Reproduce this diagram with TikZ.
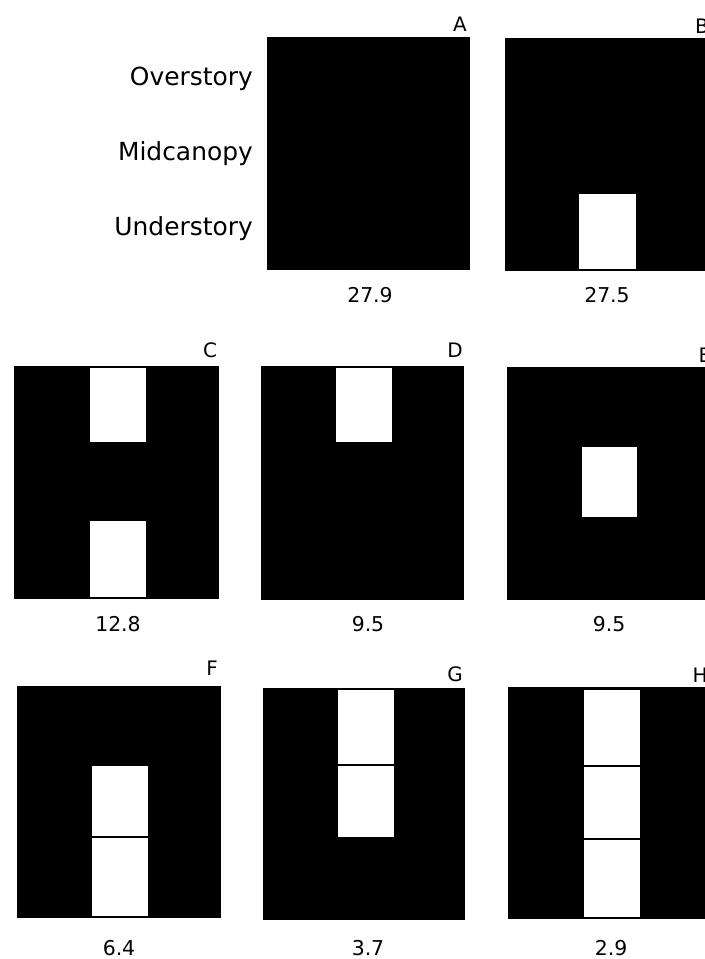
\documentclass[tikz,border=0pt]{standalone}
\usepackage{fontspec}
\setmainfont{DejaVu Sans}
\begin{document}
\begin{tikzpicture}[x=1bp,y=-1bp,
  canopy/.style={fill=black},
  gapcell/.style={fill=white,draw=black,line width=1.5bp},
  layername/.style={anchor=base east,font=\fontsize{25}{28}\selectfont,inner sep=0pt},
  panelname/.style={anchor=base,font=\fontsize{20}{24}\selectfont,inner sep=0pt},
  valuetext/.style={anchor=base,font=\fontsize{20.5}{24}\selectfont,inner sep=0pt}]
\useasboundingbox (0,0) rectangle (705,959);
\clip (0,0) rectangle (705,959);

% layer names
\node[layername] (over) at (253,85) {Overstory};
\node[layername] (mid) at (253,160) {Midcanopy};
\node[layername] (under) at (253,235) {Understory};

% Row 1
\fill[canopy] (267,37) rectangle (470,270);
\fill[canopy] (505,38) rectangle (730,271);
\draw[gapcell] (578,193) rectangle (637,270);
\node[panelname] (lA) at (460,31) {A};
\node[panelname] (lB) at (702,33) {B};
\node[valuetext] (vA) at (370,302) {27.9};
\node[valuetext] (vB) at (607,302) {27.5};

% Row 2
\fill[canopy] (14,366) rectangle (219,599);
\draw[gapcell] (89,367) rectangle (147,443);
\draw[gapcell] (89,520) rectangle (147,598);
\fill[canopy] (261,366) rectangle (464,600);
\draw[gapcell] (335,367) rectangle (393,443);
\fill[canopy] (507,367) rectangle (730,600);
\draw[gapcell] (581,446) rectangle (638,518);
\node[panelname] (lC) at (210,357) {C};
\node[panelname] (lD) at (455,357) {D};
\node[panelname] (lE) at (705,362) {E};
\node[valuetext] (vC) at (118,631) {12.8};
\node[valuetext] (vD) at (368,631) {9.5};
\node[valuetext] (vE) at (609,631) {9.5};

% Row 3
\fill[canopy] (17,686) rectangle (221,918);
\draw[gapcell] (91,765) rectangle (149,837);
\draw[gapcell] (91,837) rectangle (149,917);
\fill[canopy] (263,688) rectangle (465,920);
\draw[gapcell] (337,689) rectangle (395,765);
\draw[gapcell] (337,765) rectangle (395,838);
\fill[canopy] (508,687) rectangle (730,919);
\draw[gapcell] (583,689) rectangle (641,766);
\draw[gapcell] (583,766) rectangle (641,839);
\draw[gapcell] (583,839) rectangle (641,918);
\node[panelname] (lF) at (212,675) {F};
\node[panelname] (lG) at (455,681) {G};
\node[panelname] (lH) at (700,682) {H};
\node[valuetext] (vF) at (119,955) {6.4};
\node[valuetext] (vG) at (368,955) {3.7};
\node[valuetext] (vH) at (611,955) {2.9};
\end{tikzpicture}
\end{document}
